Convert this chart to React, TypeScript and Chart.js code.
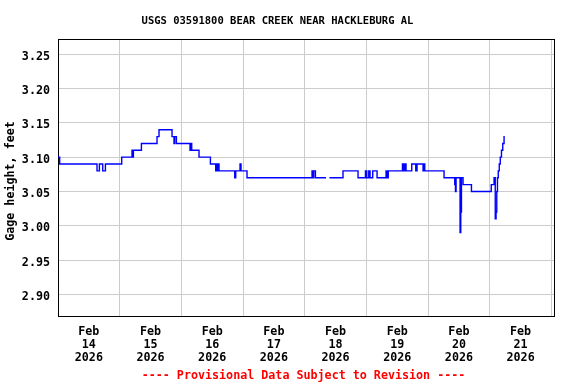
import React, { useEffect, useRef } from 'react';
import { Chart, registerables } from 'chart.js';

Chart.register(...registerables);

const TITLE = 'USGS 03591800 BEAR CREEK NEAR HACKLEBURG AL';
const FOOTER = '---- Provisional Data Subject to Revision ----';
const Y_LABEL = 'Gage height, feet ';

// hours since Feb 14 2026 00:00
const hours = [
  0, 0.66, 15.18, 16.11, 17.4, 18.45, 24.79, 28.8, 29.07, 29.34,
  32.46, 38.53, 39.31, 44.37, 45.14, 45.42, 46.08, 51.37, 51.76, 52.03,
  54.87, 59.31, 61.37, 61.76, 62.15, 62.42, 62.66, 68.77, 69.16, 70.83,
  71.22, 73.55, 98.85, 99.24, 99.51, 100.17, 104.3, 104.9, 105.62, 110.9,
  116.75, 119.63, 120.14, 120.92, 121.42, 122.47, 124.15, 127.65, 128.12, 128.5,
  134.03, 134.54, 134.93, 135.43, 137.65, 139.21, 139.71, 142.05, 142.44, 142.71,
  150.22, 154.38, 154.66, 154.89, 156.45, 156.72, 156.99, 157.61, 160.88, 168.59,
  169.68, 170.14, 170.46, 170.73, 171.0, 171.31, 171.7, 172.09, 172.56, 173.06,
  173.57, 173.84,
];

const gageHeight: (number | null)[] = [
  3.10, 3.09, 3.08, 3.09, 3.08, 3.09, 3.10, 3.11, 3.10, 3.11,
  3.12, 3.13, 3.14, 3.13, 3.12, 3.13, 3.12, 3.11, 3.12, 3.11,
  3.10, 3.09, 3.08, 3.09, 3.08, 3.09, 3.08, 3.07, 3.08, 3.09,
  3.08, 3.07, 3.08, 3.07, 3.08, 3.07, 3.07, null, 3.07, 3.08,
  3.07, 3.08, 3.07, 3.08, 3.07, 3.08, 3.07, 3.08, 3.07, 3.08,
  3.09, 3.08, 3.09, 3.08, 3.09, 3.08, 3.09, 3.08, 3.09, 3.08,
  3.07, 3.06, 3.05, 3.07, 2.99, 3.02, 3.07, 3.06, 3.05, 3.06,
  3.07, 3.01, 3.02, 3.05, 3.07, 3.08, 3.09, 3.10, 3.11, 3.12,
  3.13, 3.13,
];

const yTicks = [2.90, 2.95, 3.00, 3.05, 3.10, 3.15, 3.20, 3.25];
const dayBoundaries = [0, 24, 48, 72, 96, 120, 144, 168, 192];
const dayCenters = [12, 36, 60, 84, 108, 132, 156, 180];
const dayMonths = ['Feb', 'Feb', 'Feb', 'Feb', 'Feb', 'Feb', 'Feb', 'Feb'];
const dayNumbers = ['14', '15', '16', '17', '18', '19', '20', '21'];
const dayYears = ['2026', '2026', '2026', '2026', '2026', '2026', '2026', '2026'];

const X_MIN = 0;
const X_MAX = 193;
const Y_MIN = 2.8684;
const Y_MAX = 3.2723;

const FONT_FAMILY = '"DejaVu Sans Mono", monospace';

export default function App() {
  const canvasRef = useRef<HTMLCanvasElement | null>(null);

  useEffect(() => {
    const canvas = canvasRef.current;
    if (!canvas) return;

    const framePlugin = {
      id: 'frameAndText',
      beforeDatasetsDraw(chart: any) {
        const { ctx, chartArea } = chart;
        ctx.save();
        ctx.strokeStyle = '#000000';
        ctx.lineWidth = 1;
        ctx.strokeRect(
          Math.round(chartArea.left) + 0.5,
          Math.round(chartArea.top) + 0.5,
          Math.round(chartArea.right - chartArea.left),
          Math.round(chartArea.bottom - chartArea.top)
        );
        ctx.restore();
      },
      afterDraw(chart: any) {
        const { ctx } = chart;
        ctx.save();
        ctx.textAlign = 'center';
        ctx.textBaseline = 'middle';
        ctx.fillStyle = '#000000';
        ctx.font = `bold 10.5px ${FONT_FAMILY}`;
        ctx.fillText(TITLE, 277.5, 21);
        ctx.fillStyle = '#ff0000';
        ctx.font = `bold 11.7px ${FONT_FAMILY}`;
        ctx.fillText(FOOTER, 303.5, 376);
        ctx.restore();
      },
    };

    const xTickFont = { family: FONT_FAMILY, size: 11.7, weight: 'bold' as const, lineHeight: 1.1 };
    const yTickFont = { family: FONT_FAMILY, size: 11.7, weight: 'bold' as const, lineHeight: '5px' };

    const chart = new Chart(canvas, {
      type: 'line',
      data: {
        datasets: [
          {
            label: 'Gage height',
            data: hours.map((h, i) => ({ x: h, y: gageHeight[i] })) as any,
            borderColor: '#0000ff',
            backgroundColor: '#0000ff',
            borderWidth: 1.4,
            pointRadius: 0,
            stepped: 'before',
            spanGaps: false,
            fill: false,
          },
        ],
      },
      options: {
        animation: false,
        responsive: false,
        devicePixelRatio: 1,
        layout: { padding: { top: 39, right: 22, bottom: 16.6, left: 0 } },
        plugins: {
          legend: { display: false },
          title: { display: false },
          tooltip: { enabled: false },
        },
        scales: {
          x: {
            type: 'linear',
            position: 'bottom',
            min: X_MIN,
            max: X_MAX,
            afterFit: (s: any) => { s.height = 0; },
            afterBuildTicks: (s: any) => { s.ticks = dayBoundaries.map((v) => ({ value: v })); },
            grid: { color: '#cccccc', lineWidth: 1, drawTicks: false },
            border: { display: false },
            ticks: { display: false },
          },
          xLabels: {
            type: 'linear',
            position: 'bottom',
            min: X_MIN,
            max: X_MAX,
            afterFit: (s: any) => { s.height = 51.4; },
            afterBuildTicks: (s: any) => { s.ticks = dayCenters.map((v) => ({ value: v })); },
            grid: { display: false, drawTicks: false },
            border: { display: false },
            ticks: {
              display: true,
              autoSkip: false,
              maxRotation: 0,
              minRotation: 0,
              padding: 10,
              color: '#000000',
              font: xTickFont,
              callback: (_v: any, i: number) => [dayMonths[i], dayNumbers[i], dayYears[i]],
            },
          },
          y: {
            type: 'linear',
            min: Y_MIN,
            max: Y_MAX,
            afterFit: (s: any) => { s.width = 58; },
            afterBuildTicks: (s: any) => { s.ticks = yTicks.map((v) => ({ value: v })); },
            grid: { color: '#cccccc', lineWidth: 1, drawTicks: false },
            border: { display: false },
            ticks: {
              padding: 8,
              color: '#000000',
              font: yTickFont as any,
              callback: (v: any) => ['', Number(v).toFixed(2)],
            },
            title: {
              display: true,
              text: Y_LABEL,
              color: '#000000',
              font: { family: FONT_FAMILY, size: 11.7, weight: 'bold' },
              padding: { top: 4.2, bottom: 0 },
            },
          },
        },
      },
      plugins: [framePlugin],
    });

    return () => chart.destroy();
  }, []);

  return (
    <div style={{ position: 'absolute', left: 0, top: 0, width: 576, height: 384, background: '#ffffff' }}>
      <canvas ref={canvasRef} width={576} height={384} style={{ display: 'block', width: 576, height: 384 }} />
    </div>
  );
}
